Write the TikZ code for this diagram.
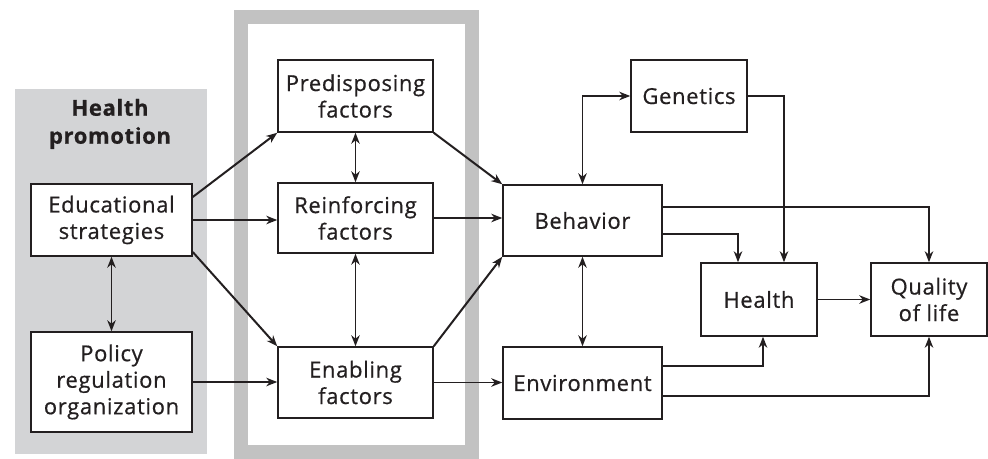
\documentclass[tikz,border=0pt]{standalone}
\usepackage{fontspec}
\setmainfont{Open Sans}[LetterSpace=3, FakeBold=0.6]
\usetikzlibrary{arrows.meta,calc}
\definecolor{ink}{HTML}{231F20}
\definecolor{panelgray}{HTML}{D3D4D6}
\definecolor{framegray}{HTML}{C2C2C2}
\tikzset{
  box/.style={draw=ink, line width=1.5pt, fill=white, inner sep=0pt, align=center,
    text=ink, font=\fontsize{22}{26.5}\selectfont},
  link/.style={draw=ink, line width=1.5pt, -{Stealth[length=11pt,width=8.5pt,inset=3.5pt]}},
  twoway/.style={draw=ink, line width=1.5pt, {Stealth[length=11pt,width=8.5pt,inset=3.5pt]}-{Stealth[length=11pt,width=8.5pt,inset=3.5pt]}},
  slant/.style={link, line width=2pt}
}
\begin{document}
\begin{tikzpicture}[x=1pt, y=-1pt]
\useasboundingbox (0,0) rectangle (988,458);
% health promotion panel and factor frame
\fill[panelgray] (15,89) rectangle (207,454);
\draw[framegray, line width=14pt] (241,17) rectangle (472,452);
\node[text=ink, align=center, font=\fontsize{22}{28}\selectfont\bfseries] (hp) at (110,124) {Health\\promotion};
% boxes
\node[box, minimum width=161pt, minimum height=72pt] (edu) at (111.5,220) {Educational\\strategies};
\node[box, minimum width=161pt, minimum height=100pt] (pol) at (111.5,382) {Policy\\regulation\\organization};
\node[box, minimum width=155pt, minimum height=72pt] (pre) at (355.5,96) {Predisposing\\factors};
\node[box, minimum width=155pt, minimum height=70pt] (rei) at (355.5,218) {Reinforcing\\factors};
\node[box, minimum width=155pt, minimum height=71pt] (ena) at (355.5,382.5) {Enabling\\factors};
\node[box, minimum width=159pt, minimum height=71pt] (beh) at (582.5,220.5) {Behavior};
\node[box, minimum width=159pt, minimum height=72pt] (env) at (582.5,383) {Environment};
\node[box, minimum width=116pt, minimum height=72pt] (gen) at (689,96) {Genetics};
\node[box, minimum width=116pt, minimum height=73pt] (hea) at (759,299.5) {Health};
\node[box, minimum width=116pt, minimum height=73pt] (qol) at (929,299.5) {Quality\\of life};
% connectors
\draw[twoway] (edu.south) -- (pol.north);
\draw[slant] ([yshift=23pt]edu.east) -- (pre.south west);
\draw[link] (edu.east) -- (edu.east -| rei.west);
\draw[slant] ([yshift=-32pt]edu.east) -- (ena.north west);
\draw[link] (pol.east) -- (pol.east -| ena.west);
\draw[twoway] (pre.south) -- (rei.north);
\draw[twoway] (rei.south) -- (ena.north);
\draw[slant] (pre.south east) -- (beh.north west);
\draw[link] (rei.east) -- (rei.east -| beh.west);
\draw[slant] (ena.north east) -- (beh.south west);
\draw[link] (ena.east) -- (ena.east -| env.west);
\draw[twoway] (beh.south) -- (env.north);
\draw[twoway] (beh.north) |- (gen.west);
\draw[link] (gen.east) -| ([xshift=25pt]hea.north);
\draw[link] ([yshift=13.5pt]beh.east) -| (qol.north);
\draw[link] ([yshift=-13.5pt]beh.east) -| ([xshift=-21pt]hea.north);
\draw[link] (hea.east) -- (hea.east -| qol.west);
\draw[link] ([yshift=17pt]env.east) -| ([xshift=4pt]hea.south);
\draw[link] ([yshift=-13pt]env.east) -| (qol.south);
\end{tikzpicture}
\end{document}
